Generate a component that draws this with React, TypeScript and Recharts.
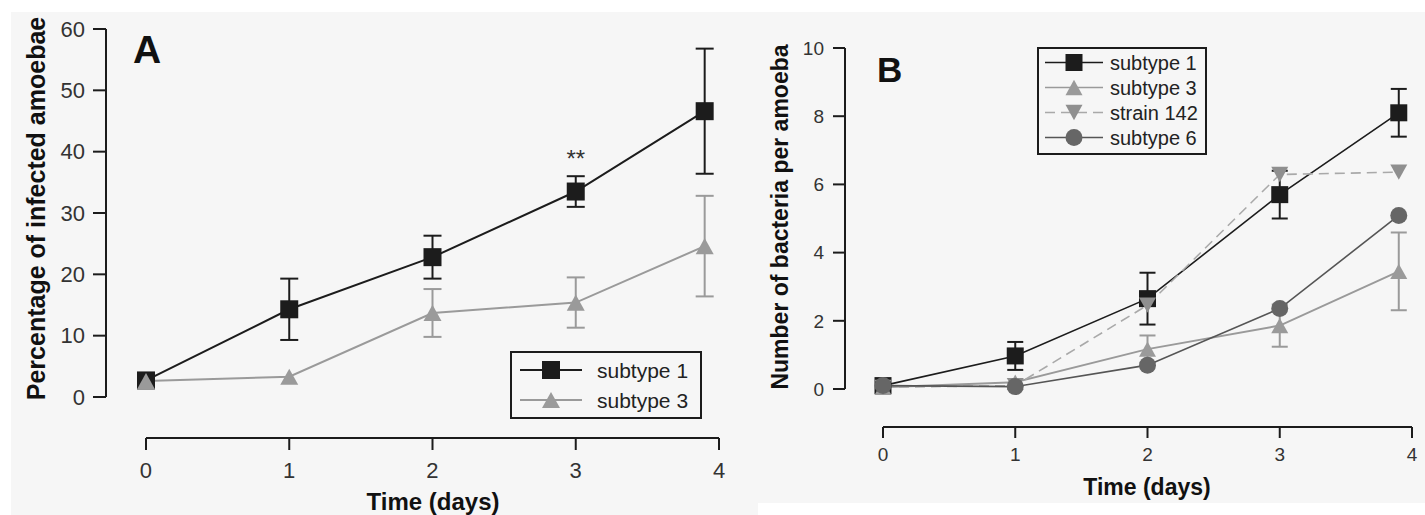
import React from 'react'
import { LineChart, Line, XAxis, YAxis, ErrorBar, ReferenceLine, ReferenceDot, Legend } from 'recharts'

// sampling days (the last point sits just before day 4, as in the figure)
const days = [0, 1, 2, 3, 3.9]
const dayTicks = [0, 1, 2, 3, 4]

// panel A: percentage of infected amoebae
const infectedSubtype1 = [2.7, 14.3, 22.8, 33.5, 46.6]
const infectedSubtype1Err = [0, 5.0, 3.5, 2.5, 10.2]
const infectedSubtype3 = [2.6, 3.3, 13.7, 15.4, 24.6]
const infectedSubtype3Err = [0, 0, 3.9, 4.1, 8.2]
const infectedTicks = [0, 10, 20, 30, 40, 50, 60]

// panel B: number of bacteria per amoeba
const bacteriaSubtype1 = [0.1, 0.97, 2.65, 5.7, 8.1]
const bacteriaSubtype1Err = [0, 0.41, 0.76, 0.7, 0.7]
const bacteriaSubtype3 = [0.05, 0.2, 1.17, 1.86, 3.45]
const bacteriaSubtype3Err = [0, 0, 0.4, 0.62, 1.14]
const bacteriaStrain142 = [0.05, 0.1, 2.46, 6.29, 6.36]
const bacteriaSubtype6 = [0.1, 0.07, 0.7, 2.36, 5.09]
const bacteriaTicks = [0, 2, 4, 6, 8, 10]

const INK = '#1c1c1c'
const GREY = '#9a9a9a'
const DASH_GREY = '#a9a9a9'
const DARK_GREY = '#666666'
const TICK_TEXT = '#333333'
const FONT = '"Liberation Sans", Arial, sans-serif'
const PANEL_BG = '#f6f6f6'

const errOrNull = (v: number) => (v ? v : null)

const infectedRows = days.map((day, i) => ({
  day,
  s1: infectedSubtype1[i],
  s1Err: errOrNull(infectedSubtype1Err[i]),
  s3: infectedSubtype3[i],
  s3Err: errOrNull(infectedSubtype3Err[i]),
}))

const bacteriaRows = days.map((day, i) => ({
  day,
  s1: bacteriaSubtype1[i],
  s1Err: errOrNull(bacteriaSubtype1Err[i]),
  s3: bacteriaSubtype3[i],
  s3Err: errOrNull(bacteriaSubtype3Err[i]),
  s142: bacteriaStrain142[i],
  s6: bacteriaSubtype6[i],
}))

type Shape = 'square' | 'triangleUp' | 'triangleDown' | 'circle'

interface MarkerProps {
  shape: Shape
  cx: number
  cy: number
  size: number
  fill: string
}

const Marker: React.FC<MarkerProps> = ({ shape, cx, cy, size, fill }) => {
  const h = size / 2
  if (shape === 'square') return <rect x={cx - h} y={cy - h} width={size} height={size} fill={fill} />
  if (shape === 'circle') return <circle cx={cx} cy={cy} r={h} fill={fill} />
  const th = size * 0.9
  if (shape === 'triangleUp') {
    return <polygon points={`${cx},${cy - th / 2} ${cx + h},${cy + th / 2} ${cx - h},${cy + th / 2}`} fill={fill} />
  }
  return <polygon points={`${cx},${cy + th / 2} ${cx + h},${cy - th / 2} ${cx - h},${cy - th / 2}`} fill={fill} />
}

const dotRenderer = (shape: Shape, size: number, fill: string) => (props: any) => {
  const { cx, cy, index } = props
  if (cx == null || cy == null) return <g key={`dot-${index}`} />
  return <Marker key={`dot-${index}`} shape={shape} cx={cx} cy={cy} size={size} fill={fill} />
}

interface LegendEntry {
  name: string
  stroke: string
  lineWidth: number
  dash?: string
  shape: Shape
  fill: string
}

interface LegendBoxProps {
  entries: LegendEntry[]
  rowHeight: number
  sampleWidth: number
  markerSize: number
  gap: number
  fontSize: number
  padding: string
}

const LegendBox: React.FC<LegendBoxProps> = ({ entries, rowHeight, sampleWidth, markerSize, gap, fontSize, padding }) => (
  <div style={{ border: `2px solid ${INK}`, padding, boxSizing: 'border-box', fontFamily: FONT }}>
    {entries.map((e) => (
      <div key={e.name} style={{ display: 'flex', alignItems: 'center', height: rowHeight }}>
        <svg width={sampleWidth} height={rowHeight} style={{ display: 'block', flex: 'none' }}>
          <line
            x1={0}
            x2={sampleWidth}
            y1={rowHeight / 2}
            y2={rowHeight / 2}
            stroke={e.stroke}
            strokeWidth={e.lineWidth}
            strokeDasharray={e.dash}
          />
          <Marker shape={e.shape} cx={sampleWidth / 2} cy={rowHeight / 2} size={markerSize} fill={e.fill} />
        </svg>
        <span style={{ marginLeft: gap, fontSize, color: '#222', lineHeight: 1, whiteSpace: 'nowrap' }}>{e.name}</span>
      </div>
    ))}
  </div>
)

const legendA: LegendEntry[] = [
  { name: 'subtype 1', stroke: INK, lineWidth: 2, shape: 'square', fill: INK },
  { name: 'subtype 3', stroke: GREY, lineWidth: 2, shape: 'triangleUp', fill: GREY },
]

const legendB: LegendEntry[] = [
  { name: 'subtype 1', stroke: INK, lineWidth: 1.6, shape: 'square', fill: INK },
  { name: 'subtype 3', stroke: GREY, lineWidth: 1.6, shape: 'triangleUp', fill: GREY },
  { name: 'strain 142', stroke: DASH_GREY, lineWidth: 1.6, dash: '10 6', shape: 'triangleDown', fill: '#8f8f8f' },
  { name: 'subtype 6', stroke: '#555', lineWidth: 1.6, shape: 'circle', fill: DARK_GREY },
]

// domains reach a little past 0 so the axes sit apart from the data, as in the figure
const A_X_MIN = -0.2792
const A_Y_MIN = -6.685
const B_X_MIN = -0.2873
const B_Y_MIN = -1.114

const axisStroke = { stroke: INK, strokeWidth: 2 }

const PanelA = () => (
  <LineChart width={757} height={515} data={infectedRows} margin={{ top: 29, right: 38, bottom: 0, left: 0 }}>
    <XAxis
      dataKey="day"
      type="number"
      domain={[A_X_MIN, 4]}
      ticks={dayTicks}
      interval={0}
      height={77}
      axisLine={false}
      tickLine={axisStroke}
      tickSize={12}
      tickMargin={12}
      tick={{ fill: TICK_TEXT, fontSize: 22 }}
    />
    <YAxis
      type="number"
      domain={[A_Y_MIN, 60]}
      ticks={infectedTicks}
      interval={0}
      width={106}
      axisLine={false}
      tickLine={axisStroke}
      tickSize={13}
      tickMargin={8}
      tick={{ fill: TICK_TEXT, fontSize: 22 }}
    />
    <ReferenceLine segment={[{ x: 0, y: A_Y_MIN }, { x: 4, y: A_Y_MIN }]} stroke={INK} strokeWidth={2} ifOverflow="visible" />
    <ReferenceLine segment={[{ x: A_X_MIN, y: 0 }, { x: A_X_MIN, y: 60 }]} stroke={INK} strokeWidth={2} ifOverflow="visible" />
    <Line
      dataKey="s1"
      name="subtype 1"
      stroke={INK}
      strokeWidth={2}
      dot={dotRenderer('square', 18, INK)}
      activeDot={false}
      isAnimationActive={false}
    >
      <ErrorBar dataKey="s1Err" direction="y" width={9} stroke={INK} strokeWidth={2} />
    </Line>
    <Line
      dataKey="s3"
      name="subtype 3"
      stroke={GREY}
      strokeWidth={2}
      dot={dotRenderer('triangleUp', 18, GREY)}
      activeDot={false}
      isAnimationActive={false}
    >
      <ErrorBar dataKey="s3Err" direction="y" width={9} stroke={GREY} strokeWidth={2} />
    </Line>
    <ReferenceDot x={3} y={38.9} r={0} label={{ value: '**', position: 'center', fontSize: 24, fill: TICK_TEXT }} />
    <Legend
      layout="vertical"
      align="center"
      verticalAlign="middle"
      wrapperStyle={{ left: 510, top: 351, width: 192 }}
      content={() => (
        <LegendBox entries={legendA} rowHeight={30} sampleWidth={62} markerSize={18} gap={15} fontSize={21} padding="2px 8px" />
      )}
    />
  </LineChart>
)

const PanelB = () => (
  <LineChart width={667} height={515} data={bacteriaRows} margin={{ top: 48, right: 13, bottom: 0, left: 0 }}>
    <XAxis
      dataKey="day"
      type="number"
      domain={[B_X_MIN, 4]}
      ticks={dayTicks}
      interval={0}
      height={88}
      axisLine={false}
      tickLine={axisStroke}
      tickSize={11}
      tickMargin={10}
      tick={{ fill: TICK_TEXT, fontSize: 19 }}
    />
    <YAxis
      type="number"
      domain={[B_Y_MIN, 10]}
      ticks={bacteriaTicks}
      interval={0}
      width={87}
      axisLine={false}
      tickLine={axisStroke}
      tickSize={12}
      tickMargin={9}
      tick={{ fill: TICK_TEXT, fontSize: 19 }}
    />
    <ReferenceLine segment={[{ x: 0, y: B_Y_MIN }, { x: 4, y: B_Y_MIN }]} stroke={INK} strokeWidth={2} ifOverflow="visible" />
    <ReferenceLine segment={[{ x: B_X_MIN, y: 0 }, { x: B_X_MIN, y: 10 }]} stroke={INK} strokeWidth={2} ifOverflow="visible" />
    <Line
      dataKey="s1"
      name="subtype 1"
      stroke={INK}
      strokeWidth={1.6}
      dot={dotRenderer('square', 17, INK)}
      activeDot={false}
      isAnimationActive={false}
    >
      <ErrorBar dataKey="s1Err" direction="y" width={8} stroke={INK} strokeWidth={2} />
    </Line>
    <Line
      dataKey="s3"
      name="subtype 3"
      stroke={GREY}
      strokeWidth={2}
      dot={dotRenderer('triangleUp', 17, GREY)}
      activeDot={false}
      isAnimationActive={false}
    >
      <ErrorBar dataKey="s3Err" direction="y" width={8} stroke={GREY} strokeWidth={2} />
    </Line>
    <Line
      dataKey="s142"
      name="strain 142"
      stroke={DASH_GREY}
      strokeWidth={1.6}
      strokeDasharray="10 6"
      dot={dotRenderer('triangleDown', 17, '#8f8f8f')}
      activeDot={false}
      isAnimationActive={false}
    />
    <Line
      dataKey="s6"
      name="subtype 6"
      stroke="#555"
      strokeWidth={1.6}
      dot={dotRenderer('circle', 17, DARK_GREY)}
      activeDot={false}
      isAnimationActive={false}
    />
    <Legend
      layout="vertical"
      align="center"
      verticalAlign="middle"
      wrapperStyle={{ left: 279, top: 47, width: 170 }}
      content={() => (
        <LegendBox entries={legendB} rowHeight={25} sampleWidth={58} markerSize={17} gap={7} fontSize={20} padding="1px 6px 3px" />
      )}
    />
  </LineChart>
)

const App: React.FC = () => (
  <div style={{ position: 'absolute', left: 0, top: 0, width: 1425, height: 515, background: '#fff', fontFamily: FONT, overflow: 'hidden' }}>
    <div style={{ position: 'absolute', left: 11, top: 12, width: 747, height: 503, background: PANEL_BG }} />
    <div style={{ position: 'absolute', left: 758, top: 12, width: 667, height: 491, background: PANEL_BG }} />
    <div style={{ position: 'absolute', left: 0, top: 0 }}>
      <PanelA />
    </div>
    <div style={{ position: 'absolute', left: 758, top: 0 }}>
      <PanelB />
    </div>
    <svg width={1425} height={515} style={{ position: 'absolute', left: 0, top: 0, pointerEvents: 'none' }}>
      <g fontFamily={FONT} fontWeight="bold" fill="#111">
        <text x={133} y={63} fontSize={39}>A</text>
        <text x={45} y={208.5} fontSize={25} textAnchor="middle" transform="rotate(-90 45 208.5)">
          Percentage of infected amoebae
        </text>
        <text x={433} y={510} fontSize={24} textAnchor="middle">Time (days)</text>
        <text x={877} y={82} fontSize={35}>B</text>
        <text x={788} y={217} fontSize={23} textAnchor="middle" transform="rotate(-90 788 217)">
          Number of bacteria per amoeba
        </text>
        <text x={1147} y={494.5} fontSize={23} textAnchor="middle">Time (days)</text>
      </g>
    </svg>
  </div>
)

export default App
